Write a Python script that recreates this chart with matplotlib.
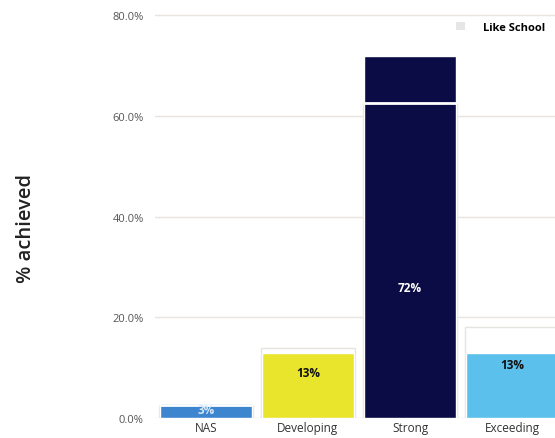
import numpy as np
import matplotlib
matplotlib.use("Agg")
import matplotlib.pyplot as plt
from matplotlib.patches import Patch

plt.rcParams['font.family'] = ['Open Sans', 'DejaVu Sans']

categories = ["NAS", "Developing", "Strong", "Exceeding"]
school = [3, 13, 72, 13]
like_school = [2.5, 14, 62.5, 18]
bar_colors = ["#3d86cf", "#e9e42c", "#0b0b45", "#5cc0ec"]
label_colors = ["#d8e8f6", "#111111", "#ffffff", "#111111"]
labels = ["3%", "13%", "72%", "13%"]
yticks = [0, 20, 40, 60, 80]

fig = plt.figure(figsize=(5.55, 4.39), dpi=100)
ax = fig.add_axes([0.279, 0.0456, 0.721, 0.94])

x = np.arange(len(categories))
ax.bar(x, like_school, width=0.92, color="white", edgecolor="#e6e4e0",
       linewidth=1.0, zorder=2)
ax.bar(x, school, width=0.9, color=bar_colors, edgecolor="white",
       linewidth=1.0, zorder=3)
# like school marker drawn over the main bar
for xi, ls, s in zip(x, like_school, school):
    if ls < s:
        ax.hlines(ls, xi - 0.46, xi + 0.46, color="white", linewidth=2, zorder=4)

label_frac = [0.55, 0.7, 0.36, 0.82]
for xi, s, lab, c, f in zip(x, school, labels, label_colors, label_frac):
    ax.text(xi, s * f, lab, ha="center", va="center", fontsize=8.5,
            color=c, fontweight="bold", zorder=5)

ax.set_xlim(-0.5, 3.42)
ax.set_ylim(0, 82)
ax.set_yticks(yticks)
ax.set_yticklabels([f"{v:.1f}%" for v in yticks], fontsize=8, color="#555555")
ax.set_xticks(x)
ax.set_xticklabels(categories, fontsize=8.5, color="#333333")
ax.tick_params(length=0, pad=8)
ax.tick_params(axis="x", pad=2)
ax.grid(axis="y", color="#e8e4e0", linewidth=1, zorder=0)
ax.set_axisbelow(True)
for sp in ax.spines.values():
    sp.set_visible(False)

fig.text(0.047, 0.48, "% achieved", rotation=90, ha="center", va="center",
         fontsize=14.5, color="#222222", fontweight="semibold")

handle = Patch(facecolor="#e6e6e6", edgecolor="none")
leg = ax.legend([handle], ["Like School"], loc="upper right",
                bbox_to_anchor=(1.0, 0.985), frameon=False,
                handlelength=0.8, handleheight=0.8, handletextpad=1.6,
                prop={"size": 8, "weight": "bold"})

fig.savefig("out.png", dpi=100)
